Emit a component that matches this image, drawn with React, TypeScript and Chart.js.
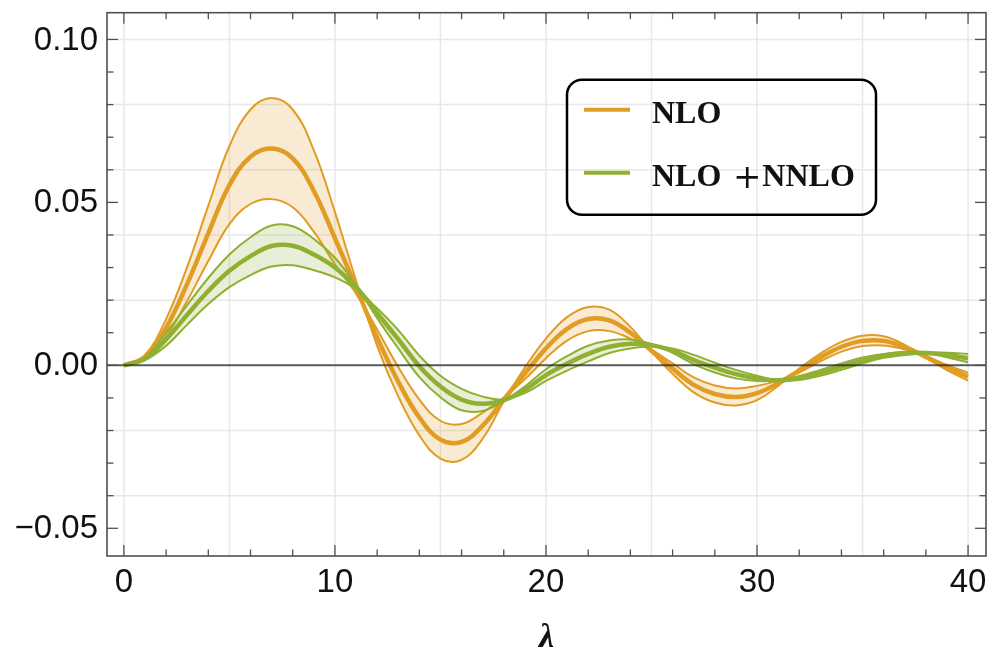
import React, { useEffect, useRef } from "react";
import { Chart, registerables } from "chart.js";

Chart.register(...registerables);

// ---- data ----
const lambdaValues = [0, 1, 2, 3, 4, 5, 6, 7, 8, 9, 10, 11, 12, 13, 14, 15, 16, 17, 18, 19, 20, 21, 22, 23, 24, 25, 26, 27, 28, 29, 30, 31, 32, 33, 34, 35, 36, 37, 38, 39, 40];

const nloCentral = [0, 0.0025, 0.0115, 0.025, 0.0405, 0.0553, 0.064, 0.0665, 0.0635, 0.0535, 0.039, 0.024, 0.0085, -0.005, -0.016, -0.0228, -0.0235, -0.0185, -0.0105, -0.0025, 0.0052, 0.0112, 0.0142, 0.0138, 0.0100, 0.0045, -0.001, -0.006, -0.0088, -0.0097, -0.0085, -0.0055, -0.0016, 0.0024, 0.0057, 0.0075, 0.0075, 0.0056, 0.0026, -0.0007, -0.0035];
const nloUpper = [0, 0.0032, 0.0142, 0.0302, 0.049, 0.0673, 0.0785, 0.082, 0.0785, 0.066, 0.047, 0.026, 0.006, -0.0095, -0.0215, -0.0286, -0.029, -0.0225, -0.0111, -0.0007, 0.0082, 0.0148, 0.0179, 0.0171, 0.0118, 0.0042, -0.0026, -0.0083, -0.0114, -0.0123, -0.0107, -0.0063, -0.0010, 0.0036, 0.0072, 0.0091, 0.0089, 0.0063, 0.0024, -0.0015, -0.0047];
const nloLower = [0, 0.0018, 0.0088, 0.0198, 0.032, 0.0433, 0.0495, 0.051, 0.0485, 0.041, 0.031, 0.022, 0.011, -0.0005, -0.0105, -0.017, -0.018, -0.0145, -0.0099, -0.0043, 0.0022, 0.0076, 0.0105, 0.0105, 0.0082, 0.0048, 0.0006, -0.0037, -0.0062, -0.0071, -0.0063, -0.0047, -0.0022, 0.0012, 0.0042, 0.0059, 0.0061, 0.0049, 0.0028, 0.0001, -0.0023];

const nnloCentral = [0, 0.002, 0.008, 0.0155, 0.0228, 0.029, 0.0335, 0.0366, 0.0367, 0.034, 0.03, 0.024, 0.016, 0.008, -0.0003, -0.0065, -0.0105, -0.0118, -0.0107, -0.0075, -0.003, 0.0005, 0.0035, 0.0057, 0.0066, 0.0062, 0.0045, 0.0016, -0.0007, -0.0027, -0.004, -0.0046, -0.0039, -0.0023, -0.0004, 0.0015, 0.0029, 0.0037, 0.0038, 0.0032, 0.0022];
const nnloUpper = [0, 0.0024, 0.01, 0.0185, 0.0268, 0.034, 0.0393, 0.0429, 0.0427, 0.0388, 0.033, 0.0246, 0.0145, 0.0052, -0.0036, -0.0098, -0.0138, -0.014, -0.0109, -0.0065, -0.0012, 0.0028, 0.006, 0.0076, 0.0079, 0.0066, 0.0038, 0.0004, -0.0022, -0.004, -0.0048, -0.0046, -0.0033, -0.0014, 0.0006, 0.0024, 0.0035, 0.0042, 0.0038, 0.0025, 0.0009];
const nnloLower = [0, 0.0016, 0.006, 0.0125, 0.0188, 0.024, 0.0277, 0.0303, 0.0307, 0.0292, 0.027, 0.0234, 0.0175, 0.0108, 0.003, -0.0032, -0.0072, -0.0096, -0.0105, -0.0085, -0.0048, -0.0016, 0.0012, 0.0038, 0.0052, 0.0058, 0.0052, 0.0032, 0.0008, -0.0014, -0.0032, -0.0046, -0.0045, -0.0032, -0.0014, 0.0006, 0.0023, 0.0032, 0.0038, 0.0039, 0.0035];

const seriesLabels = ["NLO", "NLO + NNLO"];

const xMajorTicks = [0, 10, 20, 30, 40];
const xTickLabels = ["0", "10", "20", "30", "40"];
const xMinorTicks = [2, 4, 6, 8, 12, 14, 16, 18, 22, 24, 26, 28, 32, 34, 36, 38];
const xGridLines = [0, 5, 10, 15, 20, 25, 30, 35, 40];
const yMajorTicks = [-0.05, 0, 0.05, 0.1];
const yTickLabels = ["\u22120.05", "0.00", "0.05", "0.10"];
const yMinorTicks = [-0.04, -0.03, -0.02, -0.01, 0.01, 0.02, 0.03, 0.04, 0.06, 0.07, 0.08, 0.09];
const yGridLines = [-0.04, -0.02, 0, 0.02, 0.04, 0.06, 0.08, 0.1];

const ORANGE = "#E19C24";
const GREEN = "#8FB032";
const ORANGE_FILL = "rgba(225,156,36,0.2)";
const GREEN_FILL = "rgba(143,176,50,0.2)";

const toPts = (arr: number[]) => lambdaValues.map((x, i) => ({ x, y: arr[i] }));

const framePlugin = {
  id: "mmaFrame",
  beforeDatasetsDraw(chart: any) {
    const { ctx, chartArea: a, scales } = chart;
    const xs = scales.x, ys = scales.y;
    ctx.save();
    ctx.strokeStyle = "#e8e8e8";
    ctx.lineWidth = 1.5;
    xGridLines.forEach((v) => {
      const px = xs.getPixelForValue(v);
      ctx.beginPath(); ctx.moveTo(px, a.top); ctx.lineTo(px, a.bottom); ctx.stroke();
    });
    yGridLines.forEach((v) => {
      const py = ys.getPixelForValue(v);
      ctx.beginPath(); ctx.moveTo(a.left, py); ctx.lineTo(a.right, py); ctx.stroke();
    });
    ctx.restore();
  },
  afterDatasetsDraw(chart: any) {
    const { ctx, chartArea: a, scales } = chart;
    const xs = scales.x, ys = scales.y;
    ctx.save();
    // zero axis
    const y0 = ys.getPixelForValue(0);
    ctx.strokeStyle = "rgba(30,30,30,0.7)";
    ctx.lineWidth = 2;
    ctx.beginPath(); ctx.moveTo(a.left, y0); ctx.lineTo(a.right, y0); ctx.stroke();

    // frame
    ctx.strokeStyle = "#505050";
    ctx.lineWidth = 1.6;
    ctx.strokeRect(a.left, a.top, a.right - a.left, a.bottom - a.top);

    // ticks (inward, all four sides)
    const major = 11, minor = 6.5;
    ctx.lineWidth = 1.3;
    const vtick = (v: number, len: number) => {
      const px = xs.getPixelForValue(v);
      ctx.beginPath(); ctx.moveTo(px, a.bottom); ctx.lineTo(px, a.bottom - len); ctx.stroke();
      ctx.beginPath(); ctx.moveTo(px, a.top); ctx.lineTo(px, a.top + len); ctx.stroke();
    };
    const htick = (v: number, len: number) => {
      const py = ys.getPixelForValue(v);
      ctx.beginPath(); ctx.moveTo(a.left, py); ctx.lineTo(a.left + len, py); ctx.stroke();
      ctx.beginPath(); ctx.moveTo(a.right, py); ctx.lineTo(a.right - len, py); ctx.stroke();
    };
    xMajorTicks.forEach((v) => vtick(v, major));
    xMinorTicks.forEach((v) => vtick(v, minor));
    yMajorTicks.forEach((v) => htick(v, major));
    yMinorTicks.forEach((v) => htick(v, minor));

    // tick labels
    ctx.fillStyle = "#111";
    ctx.font = '33px "Liberation Sans"';
    ctx.textBaseline = "middle";
    ctx.textAlign = "right";
    yMajorTicks.forEach((v, i) => {
      ctx.fillText(yTickLabels[i], a.left - 9, ys.getPixelForValue(v) + 1);
    });
    ctx.textAlign = "center";
    xMajorTicks.forEach((v, i) => {
      ctx.fillText(xTickLabels[i], xs.getPixelForValue(v), a.bottom + 27);
    });

    // axis title
    ctx.font = 'bold italic 34px "Liberation Serif"';
    ctx.textAlign = "center";
    ctx.textBaseline = "alphabetic";
    ctx.fillText("\u03BB", (a.left + a.right) / 2, a.bottom + 91);

    // legend
    const bx = a.left + 460, by = a.top + 67, bw = 309, bh = 135, r = 15;
    ctx.strokeStyle = "#000";
    ctx.lineWidth = 2.5;
    ctx.beginPath();
    ctx.roundRect(bx, by, bw, bh, r);
    ctx.stroke();
    const items = [
      { label: seriesLabels[0], color: ORANGE, y: by + 30 },
      { label: seriesLabels[1], color: GREEN, y: by + 93 },
    ];
    ctx.textBaseline = "alphabetic";
    items.forEach((it) => {
      ctx.strokeStyle = it.color;
      ctx.lineWidth = 4;
      ctx.beginPath(); ctx.moveTo(bx + 17, it.y); ctx.lineTo(bx + 63, it.y); ctx.stroke();
      ctx.fillStyle = "#111";
      const base = it.y + 13;
      const parts = it.label.split(" + ");
      ctx.font = 'bold 32px "Liberation Serif"';
      ctx.textAlign = "left";
      let x = bx + 85;
      ctx.fillText(parts[0], x, base);
      if (parts.length > 1) {
        const end = x + ctx.measureText(parts[0]).width;
        ctx.font = '34px "DejaVu Serif"';
        ctx.textAlign = "center";
        ctx.fillText("+", end + 26, base + 2);
        ctx.font = 'bold 32px "Liberation Serif"';
        ctx.textAlign = "left";
        ctx.fillText(parts[1], end + 41, base);
      }
    });
    ctx.restore();
  },
};

export default function App() {
  const ref = useRef<HTMLCanvasElement | null>(null);
  useEffect(() => {
    if (!ref.current) return;
    const band = (data: number[], color: string, fillColor: string, fill: any, order: number) => ({
      data: toPts(data),
      borderColor: color,
      backgroundColor: fillColor,
      borderWidth: 2,
      pointRadius: 0,
      tension: 0.4,
      fill,
      order,
    });
    const chart = new Chart(ref.current, {
      type: "line",
      data: {
        datasets: [
          band(nloUpper, ORANGE, ORANGE_FILL, "+1", 6),
          band(nloLower, ORANGE, ORANGE_FILL, false, 6),
          { ...band(nloCentral, ORANGE, ORANGE_FILL, false, 5), borderWidth: 4.5, label: seriesLabels[0] },
          band(nnloUpper, GREEN, GREEN_FILL, "+1", 4),
          band(nnloLower, GREEN, GREEN_FILL, false, 4),
          { ...band(nnloCentral, GREEN, GREEN_FILL, false, 3), borderWidth: 4.5, label: seriesLabels[1] },
        ],
      },
      options: {
        responsive: false,
        animation: false,
        devicePixelRatio: 1,
        layout: { padding: { top: 12.7, right: 4, left: 0, bottom: 0 } },
        plugins: { legend: { display: false }, tooltip: { enabled: false } },
        scales: {
          x: {
            type: "linear",
            min: -0.8,
            max: 40.85,
            afterFit: (s: any) => { s.height = 98; },
            grid: { display: false },
            border: { display: false },
            ticks: { display: false },
          },
          y: {
            type: "linear",
            min: -0.0585,
            max: 0.1082,
            afterFit: (s: any) => { s.width = 107; },
            grid: { display: false },
            border: { display: false },
            ticks: { display: false },
          },
        },
      },
      plugins: [framePlugin],
    });
    return () => chart.destroy();
  }, []);
  return (
    <div style={{ position: "fixed", left: 0, top: 0, width: 990, height: 654, background: "#fff" }}>
      <canvas ref={ref} width={990} height={654} style={{ width: 990, height: 654, display: "block" }} />
    </div>
  );
}
